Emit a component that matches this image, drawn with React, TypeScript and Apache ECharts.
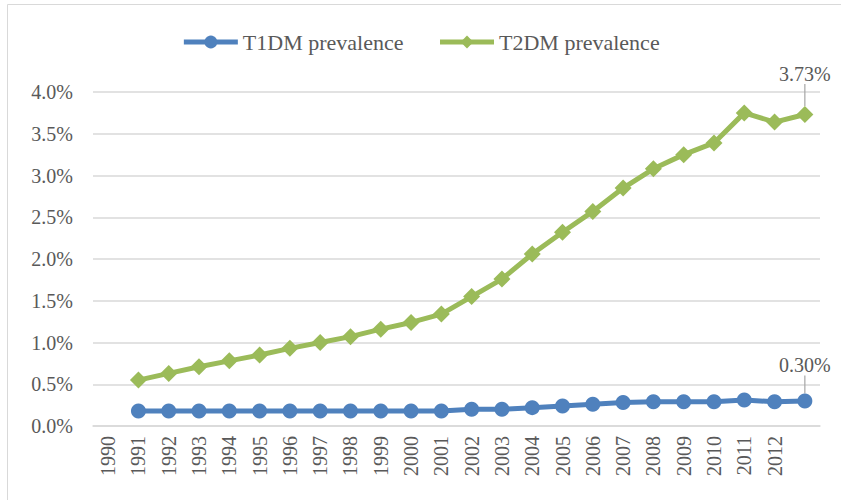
import React, { useEffect, useRef } from "react";
import * as echarts from "echarts";

const years = ["1990","1991","1992","1993","1994","1995","1996","1997","1998","1999","2000","2001","2002","2003","2004","2005","2006","2007","2008","2009","2010","2011","2012",""];
const t1dm = [null,0.18,0.18,0.18,0.18,0.18,0.18,0.18,0.18,0.18,0.18,0.18,0.20,0.20,0.22,0.24,0.26,0.28,0.29,0.29,0.29,0.31,0.29,0.30];
const t2dm = [null,0.55,0.63,0.71,0.78,0.85,0.93,1.00,1.07,1.16,1.24,1.34,1.55,1.76,2.06,2.32,2.57,2.85,3.08,3.25,3.39,3.75,3.64,3.73];
const yTicks = { min: 0, max: 4, interval: 0.5 };

const FONT = "'Liberation Serif', 'DejaVu Serif', serif";
const TEXT = "#595959";

function withEndLabel(arr: (number | null)[], dy: number) {
  const last = arr.length - 1;
  return arr.map((v, i) =>
    i === last
      ? {
          value: v,
          label: {
            show: true,
            position: "top",
            distance: 8,
            color: TEXT,
            fontFamily: FONT,
            fontSize: 20,
            formatter: (p: any) => `${Number(p.value).toFixed(2)}%`,
          },
          labelLine: { show: true, lineStyle: { color: "#a6a6a6", width: 1.2 } },
          labelLayout: { dy },
        }
      : v
  );
}

export default function App() {
  const ref = useRef<HTMLDivElement>(null);
  useEffect(() => {
    if (!ref.current) return;
    const chart = echarts.init(ref.current, undefined, { renderer: "svg" });
    const lastIdx = years.length - 1;
    chart.setOption({
      animation: false,
      backgroundColor: "#ffffff",
      textStyle: { fontFamily: FONT },
      graphic: [
        {
          type: "rect",
          shape: { x: 7.5, y: 4.5, width: 900, height: 600 },
          style: { fill: "none", stroke: "#d9d9d9", lineWidth: 1 },
          silent: true,
        },
      ],
      legend: {
        top: 26,
        left: "center",
        itemWidth: 54,
        itemHeight: 16,
        itemGap: 34,
        lineStyle: { width: 5 },
        textStyle: { color: TEXT, fontFamily: FONT, fontSize: 22 },
        data: ["T1DM prevalence", "T2DM prevalence"],
      },
      grid: { left: 93, right: 21, top: 92, bottom: 74, containLabel: false },
      xAxis: {
        type: "category",
        data: years,
        boundaryGap: true,
        axisLine: { show: true, lineStyle: { color: "#d9d9d9", width: 1.5 } },
        axisTick: { show: false },
        axisLabel: {
          rotate: 90,
          interval: 0,
          color: TEXT,
          fontFamily: FONT,
          fontSize: 20,
          margin: 10,
        },
      },
      yAxis: {
        type: "value",
        min: yTicks.min,
        max: yTicks.max,
        interval: yTicks.interval,
        axisLine: { show: false },
        axisTick: { show: false },
        splitLine: { lineStyle: { color: "#d9d9d9", width: 1.5 } },
        axisLabel: {
          color: TEXT,
          fontFamily: FONT,
          fontSize: 20,
          margin: 20,
          formatter: (v: number) => `${v.toFixed(1)}%`,
        },
      },
      series: [
        {
          name: "T1DM prevalence",
          type: "line",
          data: withEndLabel(t1dm, -10),
          symbol: "circle",
          symbolSize: 15,
          lineStyle: { color: "#4f81bd", width: 5 },
          itemStyle: { color: "#4f81bd" },
          labelLayout: (p: any) => (p.dataIndex === lastIdx ? { dy: -10 } : {}),
          z: 3,
        },
        {
          name: "T2DM prevalence",
          type: "line",
          data: withEndLabel(t2dm, -14),
          symbol: "diamond",
          symbolSize: 17,
          lineStyle: { color: "#9bbb59", width: 5 },
          itemStyle: { color: "#9bbb59" },
          labelLayout: (p: any) => (p.dataIndex === lastIdx ? { dy: -14 } : {}),
          z: 2,
        },
      ],
    });
    return () => chart.dispose();
  }, []);
  return (
    <div
      ref={ref}
      style={{ position: "absolute", left: 0, top: 0, width: 841, height: 500 }}
    />
  );
}
